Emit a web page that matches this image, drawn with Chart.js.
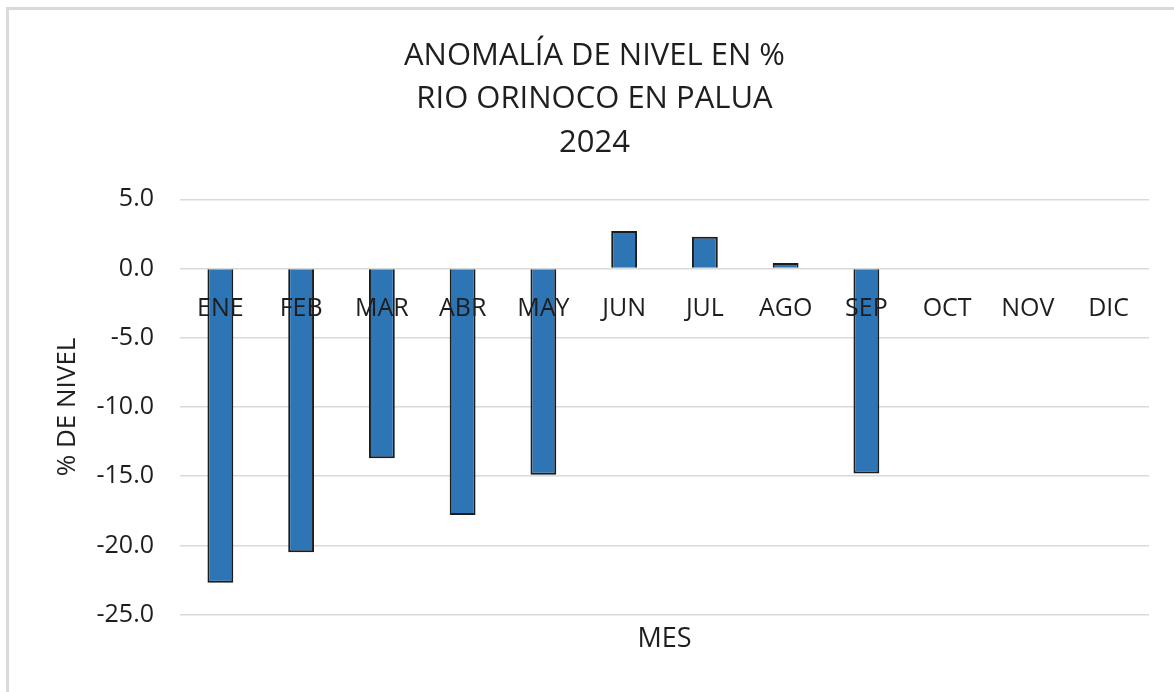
<!DOCTYPE html>
<html lang="es">
<head>
  <meta charset="UTF-8">
  <title>Anomalía de nivel - Río Orinoco en Palua</title>
  <script src="https://cdn.jsdelivr.net/npm/chart.js"></script>
  <style>
    body {
      margin: 0;
      background: #ffffff;
      overflow: hidden;
    }

    .wrap {
      position: relative;
      width: 1174px;
      height: 692px;
    }

    .marco {
      position: absolute;
      left: 6px;
      top: 7px;
      width: 1200px;
      height: 720px;
      border-left: 3px solid #dadada;
      border-top: 3px solid #dadada;
      pointer-events: none;
    }
  </style>
</head>
<body>

<div class="wrap">
  <canvas id="chart" width="1174" height="692"></canvas>
  <div class="marco"></div>
</div>

<script>
  const meses = ['ENE', 'FEB', 'MAR', 'ABR', 'MAY', 'JUN', 'JUL', 'AGO', 'SEP', 'OCT', 'NOV', 'DIC'];
  const anomalia = [-22.7, -20.5, -13.7, -17.8, -14.9, 2.7, 2.3, 0.4, -14.8, null, null, null];
  const titulo = ['ANOMALÍA DE NIVEL EN %', 'RIO ORINOCO EN PALUA', '2024'];

  const fuente = '"Open Sans", Lato, sans-serif';
  const texto = '#1e1e1e';

  new Chart(document.getElementById('chart'), {
    type: 'bar',
    data: {
      labels: meses,
      datasets: [{
        label: 'Anomalía',
        data: anomalia,
        backgroundColor: '#2e75b6',
        borderColor: '#1c1c1c',
        borderWidth: 2,
        barPercentage: 0.32,
        categoryPercentage: 1
      }]
    },
    options: {
      responsive: false,
      animation: false,
      layout: {
        padding: { top: 20, left: 40, right: 25, bottom: 26 }
      },
      scales: {
        x: {
          position: { y: 0 },
          grid: { display: false },
          border: { display: false },
          ticks: {
            z: 1,
            color: texto,
            font: { family: fuente, size: 25 },
            padding: 17,
            autoSkip: false,
            maxRotation: 0
          },
          afterFit: s => { s.height = 0; }
        },
        y: {
          min: -25,
          max: 5,
          border: { display: false },
          grid: { color: '#d9d9d9', lineWidth: 1.5, drawTicks: false },
          ticks: {
            stepSize: 5,
            color: texto,
            padding: 26,
            font: { family: fuente, size: 25 },
            callback: v => v.toFixed(1)
          },
          title: {
            display: true,
            text: '% DE NIVEL',
            color: texto,
            font: { family: fuente, size: 26 },
            padding: { top: 12, bottom: 0 }
          },
          afterFit: s => { s.width = 140; }
        }
      },
      plugins: {
        legend: { display: false },
        tooltip: { enabled: false },
        title: {
          display: true,
          text: titulo,
          color: texto,
          font: { family: fuente, size: 31, weight: 'normal', lineHeight: 1.39 },
          padding: { top: 15, bottom: 35 }
        },
        subtitle: {
          display: true,
          position: 'bottom',
          fullSize: false,
          text: 'MES',
          color: texto,
          font: { family: fuente, size: 27 },
          padding: { top: 9, bottom: 10 }
        }
      }
    }
  });
</script>
</body>
</html>
